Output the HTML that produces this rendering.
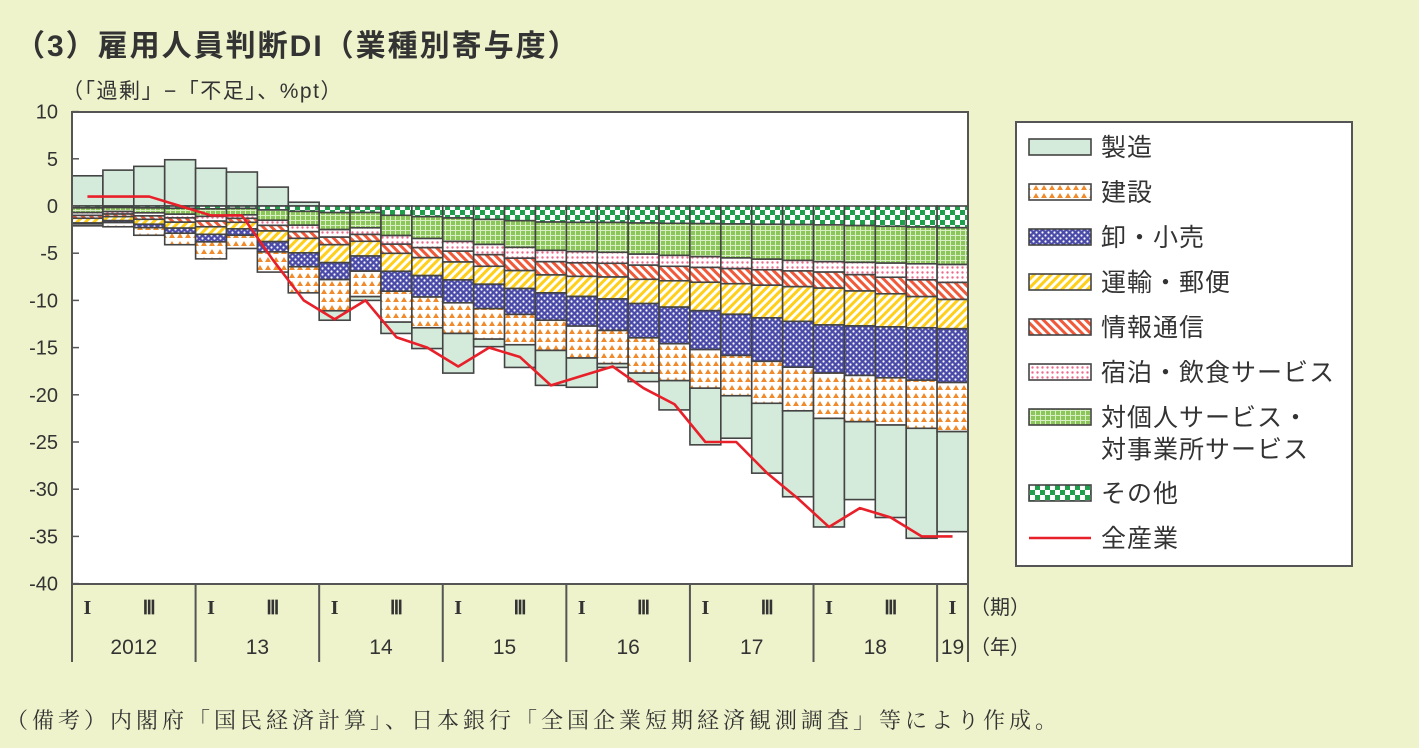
<!DOCTYPE html>
<html><head><meta charset="utf-8"><style>
html,body{margin:0;padding:0;background:#eef3cb;}
svg{display:block;font-family:"Liberation Sans","Noto Sans CJK JP",sans-serif;}
</style></head><body>
<svg id="s" width="1419" height="748" xmlns="http://www.w3.org/2000/svg">
<defs>
<pattern id="pMfg" width="4" height="4" patternUnits="userSpaceOnUse"><rect width="4" height="4" fill="#d4ebdc"/></pattern>
<pattern id="pCon" width="8" height="8" patternUnits="userSpaceOnUse"><rect width="8" height="8" fill="#fff"/><polygon points="4,1 7,6 1,6" fill="#f08a2a"/></pattern>
<pattern id="pWho" width="6" height="6" patternUnits="userSpaceOnUse"><rect width="6" height="6" fill="#4a4aa8"/><circle cx="1.5" cy="1.5" r="1.1" fill="#fff"/><circle cx="4.5" cy="4.5" r="1.1" fill="#fff"/></pattern>
<pattern id="pTra" width="6" height="6" patternUnits="userSpaceOnUse" patternTransform="rotate(45)"><rect width="6" height="6" fill="#fff"/><rect width="3" height="6" fill="#ffcf1a"/></pattern>
<pattern id="pInf" width="6" height="6" patternUnits="userSpaceOnUse" patternTransform="rotate(-45)"><rect width="6" height="6" fill="#fff"/><rect width="3" height="6" fill="#f05a3a"/></pattern>
<pattern id="pHos" width="5" height="5" patternUnits="userSpaceOnUse"><rect width="5" height="5" fill="#fff"/><circle cx="2.5" cy="2.5" r="1.2" fill="#ee6a8c"/></pattern>
<pattern id="pPer" width="5" height="5" patternUnits="userSpaceOnUse"><rect width="5" height="5" fill="#8cc65a"/><rect x="0" y="0" width="5" height="1" fill="#d8eec4"/><rect x="0" y="0" width="1" height="5" fill="#d8eec4"/></pattern>
<pattern id="pOth" width="10" height="10" patternUnits="userSpaceOnUse"><rect width="10" height="10" fill="#fff"/><rect width="5" height="5" fill="#1f9e4c"/><rect x="5" y="5" width="5" height="5" fill="#1f9e4c"/></pattern>
</defs>
<text x="15" y="56" font-size="30" font-weight="bold" fill="#333" letter-spacing="2">（3）雇用人員判断DI（業種別寄与度）</text>
<text x="62" y="98" font-size="21" fill="#333" letter-spacing="1.5">（「過剰」−「不足」、%pt）</text>
<rect x="72" y="112" width="896" height="472" fill="#fff"/>
<g id="bars"></g>
<g id="ax"></g>
<rect x="72" y="112" width="896" height="472" fill="none" stroke="#555" stroke-width="2"/>
<g id="leg">
<rect x="1016" y="122" width="336" height="444" fill="#fff" stroke="#555" stroke-width="2"/>
</g>
<text x="6" y="728" font-size="22" fill="#333" letter-spacing="4" font-family="'Liberation Serif','Noto Serif CJK SC',serif">（備考）内閣府「国民経済計算」、日本銀行「全国企業短期経済観測調査」等により作成。</text>
</svg>
<script>
const NS="http://www.w3.org/2000/svg";
function el(p,t,a,txt){const e=document.createElementNS(NS,t);for(const k in a)e.setAttribute(k,a[k]);if(txt!=null)e.textContent=txt;p.appendChild(e);return e;}
const Y=v=>206-v*9.44;
const X0=72,BW=896/29;
const bottoms=[2.1,2.2,3.1,4.1,5.6,4.5,7,9.2,12.1,10,13.5,15.1,17.7,14.9,17.1,19,19.2,17.1,18.6,21.6,25.3,24.6,28.3,30.8,34,31.1,33,35.2,34.5];
const mpos=[3.2,3.8,4.2,4.9,4.0,3.6,2.0,0.4];
const anchors={0:[.2,.5,.3,.3,.5,.1,.2],4:[.3,.8,.5,.6,.8,.8,1.8],8:[.7,1.8,.8,.8,1.9,1.8,3.3],15:[1.7,3.0,1.2,1.4,1.9,2.9,3.2],24:[2.0,3.9,1.1,1.7,3.9,5.1,4.8],28:[2.3,3.9,1.9,1.8,3.1,5.7,5.2]};
const ak=Object.keys(anchors).map(Number);
function interp(i){for(let j=0;j<ak.length-1;j++){const a=ak[j],b=ak[j+1];if(i>=a&&i<=b){const t=(i-a)/(b-a);return anchors[a].map((v,k)=>v+(anchors[b][k]-v)*t);}}}
const fills=["pOth","pPer","pHos","pInf","pTra","pWho","pCon"];
const g=document.getElementById("bars");
for(let i=0;i<29;i++){
 const x=X0+i*BW;let segs=interp(i);let sum=segs.reduce((a,b)=>a+b,0);let mneg=0;
 if(i<8){segs=segs.map(v=>v*bottoms[i]/sum);}
 else{mneg=bottoms[i]-sum;if(mneg<0.4){segs=segs.map(v=>v*(bottoms[i]-0.4)/sum);mneg=0.4;}}
 if(i<8) el(g,"rect",{x:x,y:Y(mpos[i]),width:BW,height:Y(0)-Y(mpos[i]),fill:"url(#pMfg)",stroke:"#444","stroke-width":1.6});
 let c=0;
 segs.forEach((v,k)=>{el(g,"rect",{x:x,y:Y(-c),width:BW,height:v*9.44,fill:"url(#"+fills[k]+")",stroke:"#444","stroke-width":1.6});c+=v;});
 if(mneg>0) el(g,"rect",{x:x,y:Y(-c),width:BW,height:mneg*9.44,fill:"url(#pMfg)",stroke:"#444","stroke-width":1.6});
}
const line=[1,1,1,0,-1,-1,-5.7,-10,-12,-10,-13.9,-15,-17,-15,-16,-19,-18,-17,-19.3,-21,-25,-25,-28.3,-31,-34,-32,-33,-35,-35];
el(g,"polyline",{points:line.map((v,i)=>(X0+(i+0.5)*BW)+","+Y(v)).join(" "),fill:"none",stroke:"#e8202a","stroke-width":2.6,"stroke-linejoin":"round"});
const ax=document.getElementById("ax");
for(let v=10;v>=-40;v-=5){const y=Y(v);el(ax,"line",{x1:72,x2:79,y1:y,y2:y,stroke:"#555","stroke-width":1.5});el(ax,"text",{x:58,y:y+7,"font-size":20,"text-anchor":"end",fill:"#333"},v);}
const yrs=["2012","13","14","15","16","17","18","19"];
for(let j=0;j<8;j++){const x=X0+j*4*BW;el(ax,"line",{x1:x,x2:x,y1:584,y2:662,stroke:"#555","stroke-width":2});
 el(ax,"text",{x:x+BW*0.5,y:614,"font-size":20,"text-anchor":"middle",fill:"#333","font-family":"'Liberation Serif',serif","font-weight":"bold"},"I");
 if(j<7){el(ax,"text",{x:x+BW*2.5,y:614,"font-size":19,"text-anchor":"middle",fill:"#333","font-family":"'Liberation Serif',serif","font-weight":"bold"},"Ⅲ");
  el(ax,"text",{x:x+BW*2,y:654,"font-size":21,"text-anchor":"middle",fill:"#333"},yrs[j]);}
 else el(ax,"text",{x:x+BW*0.5,y:654,"font-size":21,"text-anchor":"middle",fill:"#333"},yrs[j]);}
el(ax,"line",{x1:968,x2:968,y1:584,y2:662,stroke:"#555","stroke-width":2});
el(ax,"text",{x:970,y:614,"font-size":20,fill:"#333"},"（期）");
el(ax,"text",{x:970,y:654,"font-size":20,fill:"#333"},"（年）");
const lg=document.getElementById("leg");
const items=[["pMfg","製造",147],["pCon","建設",192],["pWho","卸・小売",237],["pTra","運輸・郵便",282],["pInf","情報通信",327],["pHos","宿泊・飲食サービス",372],["pPer","対個人サービス・",417],["pOth","その他",493]];
items.forEach(([f,t,y])=>{el(lg,"rect",{x:1029,y:y-8,width:62,height:16,fill:"url(#"+f+")",stroke:"#444","stroke-width":1.6});el(lg,"text",{x:1101,y:y+9,"font-size":25,fill:"#333","letter-spacing":1},t);});
el(lg,"text",{x:1101,y:458,"font-size":25,fill:"#333","letter-spacing":1},"対事業所サービス");
el(lg,"line",{x1:1029,x2:1091,y1:538,y2:538,stroke:"#e8202a","stroke-width":2.6});
el(lg,"text",{x:1101,y:547,"font-size":25,fill:"#333","letter-spacing":1},"全産業");
</script>
</body></html>
